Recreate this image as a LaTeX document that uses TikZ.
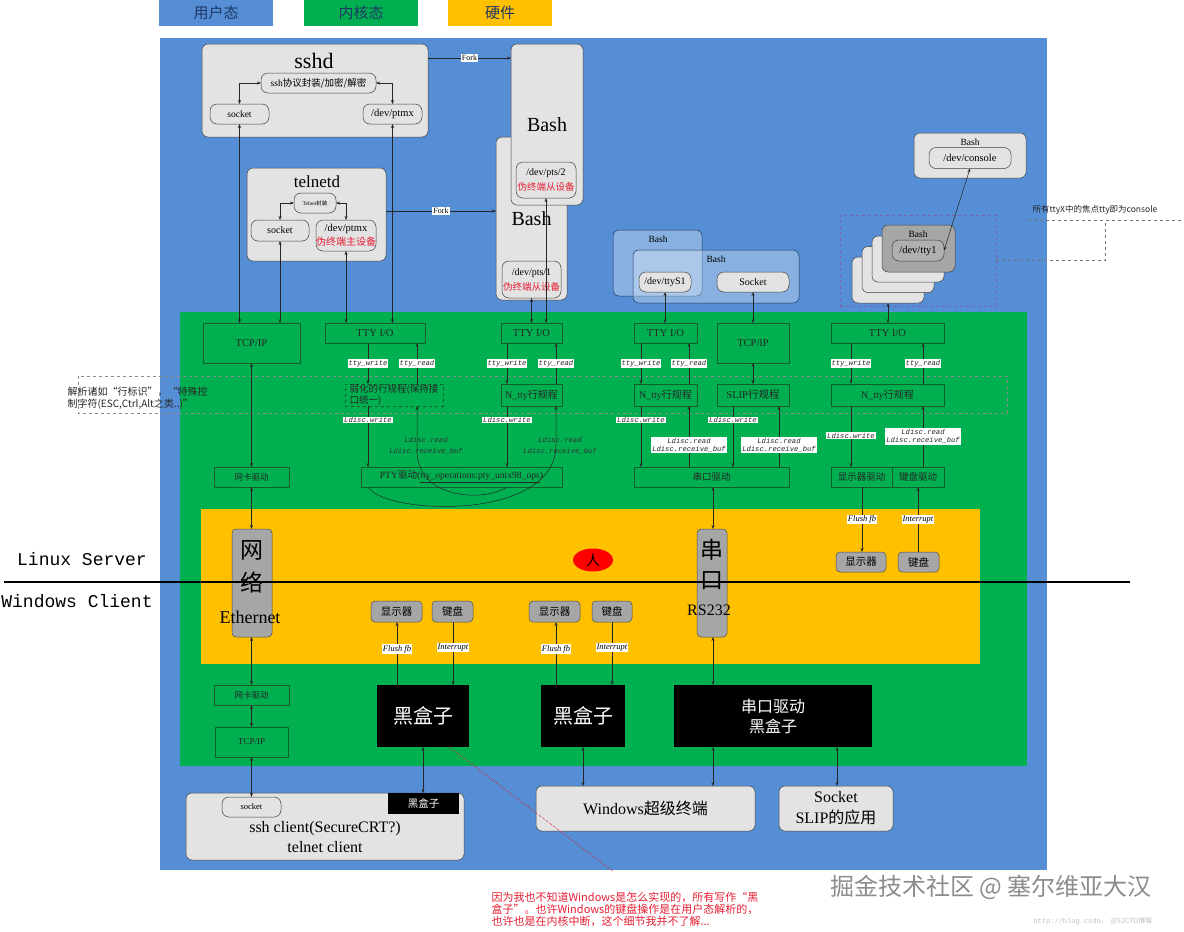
\documentclass[tikz,border=0pt]{standalone}
\usepackage{fontspec}
\setmainfont{Liberation Serif}
\newfontfamily\cjk{Noto Sans CJK SC}
\newfontfamily\mono{Liberation Mono}
\usetikzlibrary{arrows.meta,shapes.geometric}
\definecolor{ublue}{RGB}{85,142,213}
\definecolor{kgreen}{RGB}{0,176,80}
\definecolor{hyellow}{RGB}{255,192,0}
\definecolor{kline}{RGB}{20,95,40}
\definecolor{navy}{RGB}{31,56,100}
\definecolor{notered}{RGB}{230,30,50}
\definecolor{stackpurple}{RGB}{120,100,170}
\newcommand\fsz[2]{\fontsize{#1}{#2}\selectfont}
\begin{document}
\begin{tikzpicture}[x=1pt,y=-1pt,
  >={Stealth[length=4pt,width=3pt]},
  sz/.style 2 args={minimum width=#1pt, minimum height=#2pt},
  leg/.style={inner sep=0pt, outer sep=0pt, text=navy, font=\cjk\fsz{15}{17}},
  ubox/.style={draw=black!75, fill=gray!22, rounded corners=6pt, line width=0.5pt, inner sep=0pt, outer sep=0pt},
  ibox/.style={ubox, rounded corners=7pt},
  sbox/.style={draw=navy, fill=white, fill opacity=0.3, rounded corners=6pt, line width=0.5pt, inner sep=0pt, outer sep=0pt},
  kbox/.style={draw=kline, line width=0.5pt, inner sep=0pt, outer sep=0pt, text=black!85, font=\fsz{10.5}{12}},
  hbox/.style={draw=black!70, fill=gray!70, rounded corners=4pt, line width=0.5pt, inner sep=0pt, outer sep=0pt, font=\cjk\fsz{10.5}{12}},
  bbox/.style={fill=black, text=white, inner sep=0pt, outer sep=0pt},
  lab/.style={fill=white, inner sep=0.8pt, text=black!85, font=\mono\itshape\fsz{7.2}{8.5}},
  tlab/.style={inner sep=0pt, text=black!80, align=center, font=\mono\itshape\fsz{7.2}{10.5}},
  hlab/.style={fill=white, inner sep=1pt, font=\itshape\fsz{8.5}{9}},
  fork/.style={fill=white, inner sep=1pt, font=\fsz{8}{9}},
  dbl/.style={<->, draw=black!85, line width=0.5pt},
  arr/.style={->, draw=black!85, line width=0.5pt},
  band/.style={draw=black!45, dashed, line width=0.4pt},
  ndash/.style={draw=black!55, dashed, line width=0.5pt}
]
\useasboundingbox (0,0) rectangle (1184,932);
% legend
\node[leg, fill=ublue, sz={114}{26}] (legU) at (216,13) {用户态};
\node[leg, fill=kgreen, sz={114}{26}] (legK) at (361,13) {内核态};
\node[leg, fill=hyellow, sz={104}{26}] (legH) at (500,13) {硬件};
% backgrounds
\fill[ublue] (160,38) rectangle (1047,870);
\fill[kgreen] (180,312) rectangle (1027,766);
\fill[hyellow] (201,509) rectangle (980,664);
\draw[band] (78,376) rectangle (1007,413);
% sshd
\node[ubox, sz={226}{93}] (sshd) at (315,90.5) {};
\node[font=\fsz{22}{24}] (sshdT) at (314,61) {sshd};
\node[ibox, sz={115}{20}, font=\fsz{9.5}{11}] (sshproto) at (318.5,83) {ssh{\cjk 协议封装/加密/解密}};
\node[ibox, sz={59}{20}, font=\fsz{9.5}{11}] (sshsock) at (239.5,114) {socket};
\node[ibox, sz={59}{20}, font=\fsz{10.5}{12}] (sshptmx) at (392.5,114) {/dev/ptmx};
% telnetd
\node[ubox, sz={139}{93}] (telnetd) at (316.5,214.5) {};
\node[font=\fsz{17}{19}] (telnetdT) at (317,182) {telnetd};
\node[ibox, sz={42}{20}, font=\fsz{5.5}{6}] (telproto) at (315,203) {Telnet{\cjk 封装}};
\node[ibox, sz={58}{21}, font=\fsz{10}{11}] (telsock) at (280,230.5) {socket};
\node[ibox, sz={58}{31}, font=\fsz{10.5}{14}, align=center] (telptmx) at (346,235.5) {/dev/ptmx\\{\cjk\fsz{10}{14}\color{notered}伪终端主设备}};
% bash boxes
\node[ubox, sz={71}{163}, font=\fsz{20}{22}] (bash2) at (531.5,218.5) {Bash};
\node[ibox, sz={59}{37}, font=\fsz{10}{15}, align=center] (pts1) at (531.5,279.5) {/dev/pts/1\\{\cjk\fsz{9.5}{15}\color{notered}伪终端从设备}};
\node[ubox, sz={72}{161}, font=\fsz{20}{22}] (bash1) at (547,124.5) {Bash};
\node[ibox, sz={60}{36}, font=\fsz{10}{15}, align=center] (pts2) at (546,180) {/dev/pts/2\\{\cjk\fsz{9.5}{15}\color{notered}伪终端从设备}};
% serial bash
\node[sbox, sz={89}{66}] (sbash1) at (657.5,263) {};
\node[font=\fsz{9.5}{11}] (sbash1T) at (658,239) {Bash};
\node[sbox, sz={166}{53}] (sbash2) at (716,276.5) {};
\node[font=\fsz{9.5}{11}] (sbash2T) at (716,259) {Bash};
\node[ibox, sz={52}{20}, font=\fsz{10}{11}] (ttyS1) at (665,282) {/dev/ttyS1};
\node[ibox, sz={72}{20}, font=\fsz{10}{11}] (ssock) at (753,282) {Socket};
% console
\node[ubox, sz={112}{45}] (cbash) at (970,155.5) {};
\node[font=\fsz{9.5}{11}] (cbashT) at (970,142) {Bash};
\node[ibox, sz={82}{21}, font=\fsz{10.5}{12}] (console) at (970,158) {/dev/console};
% tty stack
\node[ubox, sz={72}{46}] (st4) at (888,280) {};
\node[ubox, sz={72}{46}] (st3) at (898,269.5) {};
\node[ubox, sz={72}{46}] (st2) at (908,259) {};
\node[ubox, fill=gray!70, sz={73}{47}] (st1) at (918.5,248.5) {};
\node[font=\fsz{9.5}{11}] (st1T) at (918,234) {Bash};
\node[ibox, fill=gray!62, sz={52}{21}, font=\fsz{10.5}{12}] (tty1in) at (918,250.5) {/dev/tty1};
\node[draw=stackpurple, dashed, sz={156}{91}, inner sep=0pt, outer sep=0pt] (stackbox) at (918,260.5) {};
% kernel boxes
\node[kbox, sz={97}{40}] (tcp1) at (251.5,343) {TCP/IP};
\node[kbox, sz={100}{20}] (tty1) at (375,333) {TTY I/O};
\node[kbox, sz={61}{20}] (tty2) at (531.5,333) {TTY I/O};
\node[kbox, sz={63}{20}] (tty3) at (665.5,333) {TTY I/O};
\node[kbox, sz={72}{40}] (tcp2) at (753,343) {TCP/IP};
\node[kbox, sz={113}{20}] (tty4) at (887.5,333) {TTY I/O};
\node[kbox, dashed, sz={98}{22}, align=left, font=\cjk\fsz{9.5}{10.5}] (weak) at (394,395) {弱化的行规程(保持接\\口统一)};
\node[kbox, sz={61}{22}, font=\fsz{10}{11}] (ntty2) at (531.5,395) {N\_tty{\cjk 行规程}};
\node[kbox, sz={63}{22}, font=\fsz{10}{11}] (ntty3) at (665.5,395) {N\_tty{\cjk 行规程}};
\node[kbox, sz={72}{22}, font=\fsz{10.5}{11}] (slip) at (753,395) {SLIP{\cjk 行规程}};
\node[kbox, sz={113}{22}, font=\fsz{10}{11}] (ntty4) at (887.5,395) {N\_tty{\cjk 行规程}};
\node[kbox, sz={75}{20}, font=\cjk\fsz{8.5}{10}] (nic1) at (251.5,477) {网卡驱动};
\node[kbox, sz={201}{20}, font=\fsz{9.6}{11}] (pty) at (461.5,477) {PTY{\cjk 驱动}(\underline{tty\_operations:pty\_unix98\_ops})};
\node[kbox, sz={155}{20}, font=\cjk\fsz{9.5}{11}] (serdrv) at (711.5,477) {串口驱动};
\node[kbox, sz={61}{20}, font=\cjk\fsz{9.5}{11}] (dispdrv) at (861.5,477) {显示器驱动};
\node[kbox, sz={52}{20}, font=\cjk\fsz{9.5}{11}] (kbddrv) at (918,477) {键盘驱动};
% hardware
\node[hbox, sz={40}{108}] (net) at (252,583) {};
\node[font=\cjk\fsz{23}{24}] (netA) at (252,550) {网};
\node[font=\cjk\fsz{23}{24}] (netB) at (252,582) {络};
\node[font=\fsz{18}{20}] (netC) at (250,617) {Ethernet};
\node[hbox, sz={30}{108}] (ser) at (712,583) {};
\node[font=\cjk\fsz{23}{24}] (serA) at (712,550) {串};
\node[font=\cjk\fsz{23}{24}] (serB) at (712,581) {口};
\node[font=\fsz{16}{18}] (serC) at (709,610) {RS232};
\node[ellipse, fill=red, sz={40}{23}, inner sep=0pt, font=\cjk\fsz{14}{15}] (person) at (593,560) {人};
\node[hbox, sz={50}{20}] (disp4) at (861,562) {显示器};
\node[hbox, sz={41}{20}] (kbd4) at (918.5,562) {键盘};
\node[hbox, sz={51}{21}] (disp1) at (396.5,611.5) {显示器};
\node[hbox, sz={41}{21}] (kbd1) at (452.5,611.5) {键盘};
\node[hbox, sz={51}{21}] (disp2) at (554.5,611.5) {显示器};
\node[hbox, sz={40}{21}] (kbd2) at (612,611.5) {键盘};
% black boxes and lower kernel
\node[bbox, sz={92}{62}, font=\cjk\fsz{20}{22}] (bb1) at (423,716) {黑盒子};
\node[bbox, sz={84}{62}, font=\cjk\fsz{20}{22}] (bb2) at (583,716) {黑盒子};
\node[bbox, sz={198}{62}, font=\cjk\fsz{16}{20}, align=center] (bb3) at (773,716) {串口驱动\\黑盒子};
\node[kbox, sz={75}{20}, font=\cjk\fsz{8.5}{10}] (nic2) at (251.5,695) {网卡驱动};
\node[kbox, sz={73}{30}, font=\fsz{9}{10}] (tcp3) at (251.5,742) {TCP/IP};
% user bottom
\node[ubox, sz={278}{67}] (client) at (325,826.5) {};
\node[font=\fsz{16}{20}, align=center] (clientT) at (325,837) {ssh client(SecureCRT?)\\telnet client};
\node[ibox, sz={59}{20}, font=\fsz{8.5}{10}] (csock) at (251.5,807) {socket};
\node[bbox, sz={71}{21}, font=\cjk\fsz{10.5}{12}] (cbb) at (423.5,803.5) {黑盒子};
\node[ubox, sz={219}{45}, font=\fsz{16}{18}] (winterm) at (645.5,808.5) {Windows{\cjk 超级终端}};
\node[ubox, sz={114}{45}, font=\fsz{16}{21}, align=center] (slipapp) at (836,808.5) {Socket\\SLIP{\cjk 的应用}};
% column coordinates
\coordinate (xa) at (368,0); \coordinate (xb) at (417,0);
\coordinate (xc) at (507,0); \coordinate (xd) at (556,0);
\coordinate (xe) at (641,0); \coordinate (xf) at (689,0);
\coordinate (xg) at (733,0); \coordinate (xh) at (779,0);
\coordinate (xi) at (851,0); \coordinate (xj) at (923,0);
\coordinate (xk) at (397,0); \coordinate (xl) at (453,0);
\coordinate (xm) at (556,0); \coordinate (xn) at (612,0);
\coordinate (xo) at (713,0); \coordinate (xp) at (837,0);
\coordinate (xq) at (423,0); \coordinate (xs) at (862,0);
\coordinate (xt) at (918,0);
\coordinate (fy1) at (0,58); \coordinate (fy2) at (0,211);
% user connectors
\draw[dbl] (sshproto.west) -| (sshsock.north);
\draw[dbl] (sshproto.east) -| (sshptmx.north);
\draw[dbl] (telproto.west) -| (telsock.north);
\draw[dbl] (telproto.east) -| (telptmx.north);
\draw[arr] (sshd.east |- fy1) -- node[fork] (fork1) {Fork} (bash1.west |- fy1);
\draw[arr] (telnetd.east |- fy2) -- node[fork] (fork2) {Fork} (bash2.west |- fy2);
\draw[dbl] (sshsock.south) -- (sshsock.south |- tcp1.north);
\draw[dbl] (sshptmx.south) -- (sshptmx.south |- tty1.north);
\draw[dbl] (telsock.south) -- (telsock.south |- tcp1.north);
\draw[dbl] (telptmx.south) -- (telptmx.south |- tty1.north);
\draw[dbl] (pts1.south) -- (pts1.south |- tty2.north);
\draw[dbl] (pts2.south) -- (pts2.south |- tty2.north);
\draw[dbl] (ttyS1.south) -- (ttyS1.south |- tty3.north);
\draw[dbl] (ssock.south) -- (ssock.south |- tcp2.north);
\draw[dbl] (st4.south) -- (st4.south |- tty4.north);
\draw[dbl] (tty1in.east) -- (console.south);
% kernel column 1 and 2 (pty)
\draw[arr] (tty1.south -| xa) -- node[lab] (lw1) {tty\_write} (weak.north -| xa);
\draw[arr] (weak.north -| xb) -- node[lab] (lr1) {tty\_read} (tty1.south -| xb);
\draw[arr] (weak.south -| xa) -- node[lab, pos=0.23] (ld1) {Ldisc.write} (pty.north -| xa);
\draw[arr] (tty2.south -| xc) -- node[lab] (lw2) {tty\_write} (ntty2.north -| xc);
\draw[arr] (ntty2.north -| xd) -- node[lab] (lr2) {tty\_read} (tty2.south -| xd);
\draw[arr] (ntty2.south -| xc) -- node[lab, pos=0.23] (ld2) {Ldisc.write} (pty.north -| xc);
\draw[arr] (pty.south -| xc) .. controls (485,502) and (417,500) .. (417,450) -- (weak.south -| xb);
\draw[arr] (pty.south -| xa) .. controls (385,515) and (556,522) .. (556,445) -- (ntty2.south -| xd);
\node[tlab] (lrd1) at (426,446) {Ldisc.read\\Ldisc.receive\_buf};
\node[tlab] (lrd2) at (560,446) {Ldisc.read\\Ldisc.receive\_buf};
% column 3 serial
\draw[arr] (tty3.south -| xe) -- node[lab] (lw3) {tty\_write} (ntty3.north -| xe);
\draw[arr] (ntty3.north -| xf) -- node[lab] (lr3) {tty\_read} (tty3.south -| xf);
\draw[arr] (ntty3.south -| xe) -- node[lab, pos=0.23] (ld3) {Ldisc.write} (serdrv.north -| xe);
\draw[arr] (serdrv.north -| xf) -- node[lab, align=center, pos=0.36] (lrd3) {Ldisc.read\\Ldisc.receive\_buf} (ntty3.south -| xf);
% SLIP
\draw[dbl] (tcp2.south) -- (slip.north);
\draw[arr] (slip.south -| xg) -- node[lab, pos=0.23] (ld4) {Ldisc.write} (serdrv.north -| xg);
\draw[arr] (serdrv.north -| xh) -- node[lab, align=center, pos=0.36] (lrd4) {Ldisc.read\\Ldisc.receive\_buf} (slip.south -| xh);
% column 5 console
\draw[arr] (tty4.south -| xi) -- node[lab] (lw5) {tty\_write} (ntty4.north -| xi);
\draw[arr] (ntty4.north -| xj) -- node[lab] (lr5) {tty\_read} (tty4.south -| xj);
\draw[arr] (ntty4.south -| xi) -- node[lab, pos=0.49] (ld5) {Ldisc.write} (dispdrv.north -| xi);
\draw[arr] (kbddrv.north -| xj) -- node[lab, align=center, pos=0.5] (lrd5) {Ldisc.read\\Ldisc.receive\_buf} (ntty4.south -| xj);
% network path
\draw[dbl] (tcp1.south) -- (nic1.north);
\draw[dbl] (nic1.south) -- (nic1.south |- net.north);
\draw[dbl] (nic1.south |- net.south) -- (nic2.north);
\draw[dbl] (nic2.south) -- (tcp3.north);
\draw[dbl] (tcp3.south) -- (csock.north);
% serial path
\draw[dbl] (serdrv.south -| xo) -- (ser.north -| xo);
\draw[dbl] (ser.south -| xo) -- (bb3.north -| xo);
% display / keyboard
\draw[arr] (dispdrv.south -| xs) -- node[hlab] (fl4) {Flush fb} (disp4.north -| xs);
\draw[arr] (kbd4.north -| xt) -- node[hlab] (in4) {Interrupt} (kbddrv.south -| xt);
\draw[arr] (bb1.north -| xk) -- node[hlab, pos=0.57] (fl1) {Flush fb} (disp1.south -| xk);
\draw[arr] (kbd1.south -| xl) -- node[hlab, pos=0.4] (in1) {Interrupt} (bb1.north -| xl);
\draw[arr] (bb2.north -| xm) -- node[hlab, pos=0.57] (fl2) {Flush fb} (disp2.south -| xm);
\draw[arr] (kbd2.south -| xn) -- node[hlab, pos=0.4] (in2) {Interrupt} (bb2.north -| xn);
% to windows side
\draw[dbl] (bb1.south -| xq) -- (cbb.north -| xq);
\draw[dbl] (bb2.south) -- (bb2.south |- winterm.north);
\draw[dbl] (bb3.south -| xo) -- (winterm.north -| xo);
\draw[dbl] (bb3.south -| xp) -- (slipapp.north -| xp);
% server / client divider
\node[font=\mono\fsz{18}{20}] (linux) at (82,559) {Linux Server};
\node[font=\mono\fsz{18}{20}] (windows) at (77,601) {Windows Client};
\coordinate (sepL) at (4,582); \coordinate (sepR) at (1130,582);
\draw[line width=1.2pt] (sepL) -- (sepR);
% notes
\node[anchor=west, align=left, text=black!85, font=\cjk\fsz{10}{12}] (lnote) at (64,398) {解析诸如“行标识”，“特殊控\\制字符(ESC,Ctrl,Alt之类..)”};
\node[anchor=west, text=black!85, font=\cjk\fsz{8.5}{10}] (rnote) at (1029,210) {所有ttyX中的焦点tty即为console};
\coordinate (a1) at (1105,260.5); \coordinate (a2) at (1105,220);
\coordinate (a3) at (1028,220); \coordinate (a4) at (1184,220);
\draw[ndash] (stackbox.east) -- (a1) -- (a2);
\draw[ndash] (a3) -- (a4);
\coordinate (re) at (614,872);
\draw[notered, dash pattern=on 3pt off 1.5pt, line width=0.4pt] ([xshift=-20pt]bb1.south east) -- (re);
\node[anchor=north west, align=left, text=notered, font=\cjk\fsz{11}{12}] (bnote) at (488,889) {因为我也不知道Windows是怎么实现的，所有写作“黑\\盒子”。也许Windows的键盘操作是在用户态解析的，\\也许也是在内核中断，这个细节我并不了解...};
\node[font=\cjk\fsz{24}{28}, text=black!45] (wm) at (991,887) {掘金技术社区 @ 塞尔维亚大汉};
\node[anchor=west, text=black!25, font=\mono\fsz{7}{8}] (wm2) at (1030,921) {http://blog.csdn. {\cjk @51CTO博客}};
\end{tikzpicture}
\end{document}
